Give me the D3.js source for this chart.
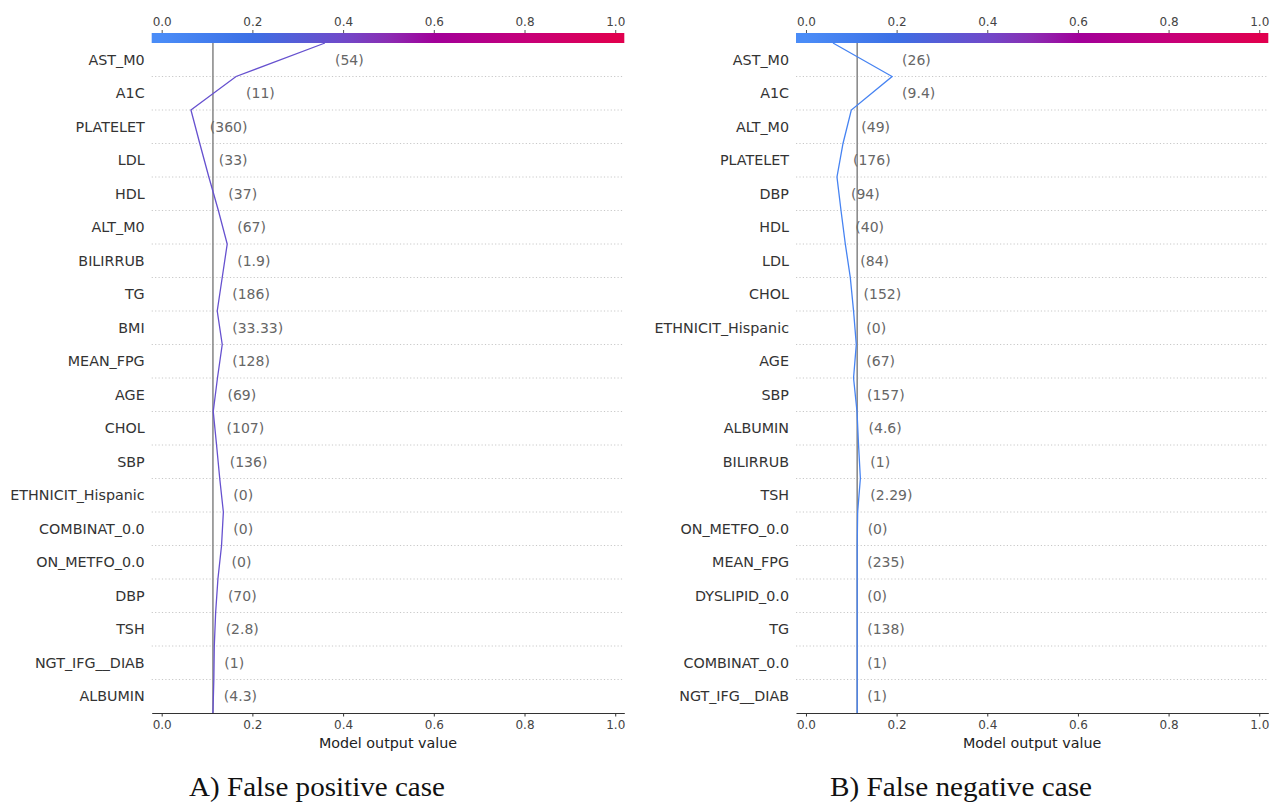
<!DOCTYPE html>
<html>
<head>
<meta charset="utf-8">
<script src="https://cdn.jsdelivr.net/npm/d3@7"></script>
<style>
  html, body { margin: 0; padding: 0; background: #fff; }
  svg { display: block; }
</style>
</head>
<body>
<svg id="chart" width="1277" height="803"></svg>
<script>
// ---------------- DATA ----------------
const featuresA = ["AST_M0","A1C","PLATELET","LDL","HDL","ALT_M0","BILIRRUB","TG","BMI","MEAN_FPG",
  "AGE","CHOL","SBP","ETHNICIT_Hispanic","COMBINAT_0.0","ON_METFO_0.0","DBP","TSH","NGT_IFG__DIAB","ALBUMIN"];
const featureValuesA = ["54","11","360","33","37","67","1.9","186","33.33","128",
  "69","107","136","0","0","0","70","2.8","1","4.3"];
// cumulative model output at each row boundary, top (final prediction) to bottom (base value)
const outputA = [0.360,0.164,0.0645,0.084,0.104,0.125,0.1445,0.1335,0.1225,0.1335,
  0.123,0.1137,0.121,0.128,0.136,0.132,0.124,0.119,0.116,0.115,0.113];
const baseA = 0.113;

const featuresB = ["AST_M0","A1C","ALT_M0","PLATELET","DBP","HDL","LDL","CHOL","ETHNICIT_Hispanic","AGE",
  "SBP","ALBUMIN","BILIRRUB","TSH","ON_METFO_0.0","MEAN_FPG","DYSLIPID_0.0","TG","COMBINAT_0.0","NGT_IFG__DIAB"];
const featureValuesB = ["26","9.4","49","176","94","40","84","152","0","67",
  "157","4.6","1","2.29","0","235","0","138","1","1"];
const outputB = [0.0596,0.190,0.100,0.0817,0.0684,0.0773,0.0868,0.0978,0.105,0.111,
  0.105,0.1126,0.116,0.120,0.114,0.113,0.113,0.113,0.113,0.113,0.113];
const baseB = 0.113;

const tickValues = [0.0,0.2,0.4,0.6,0.8,1.0];
const xDomain = [-0.022, 1.020];
const colorStops = [
  [0.00, "#4a8cf7"],
  [0.20, "#3c6fe5"],
  [0.40, "#7049c9"],
  [0.50, "#8a2db3"],
  [0.60, "#a1009a"],
  [0.80, "#c5007a"],
  [1.00, "#e0004f"]
];
const xLabel = "Model output value";
const captions = ["A) False positive case", "B) False negative case"];

// ---------------- DRAW ----------------
const svg = d3.select("#chart");
const colorScale = d3.scaleLinear()
  .domain(colorStops.map(d => d[0]))
  .range(colorStops.map(d => d[1]))
  .clamp(true);

const defs = svg.append("defs");
const grad = defs.append("linearGradient").attr("id", "cbar")
  .attr("x1", "0%").attr("x2", "100%").attr("y1", "0%").attr("y2", "0%");
d3.range(0, 1.0001, 0.02).forEach(t => {
  const v = xDomain[0] + t * (xDomain[1] - xDomain[0]);
  grad.append("stop").attr("offset", (t * 100) + "%").attr("stop-color", colorScale(v));
});

function drawPanel(opts) {
  const { left, right, top, bottom, features, values, output, base, caption, captionX, captionW } = opts;
  const g = svg.append("g");
  const x = d3.scaleLinear().domain(xDomain).range([left, right]);
  const n = features.length;
  const y = d3.scaleLinear().domain([0, n]).range([top, bottom]);

  // dotted row gridlines
  g.selectAll("line.grid").data(d3.range(1, n)).join("line")
    .attr("class", "grid")
    .attr("x1", left).attr("x2", right)
    .attr("y1", d => y(d)).attr("y2", d => y(d))
    .attr("stroke", "#c8c8c8").attr("stroke-width", 1)
    .attr("stroke-dasharray", "1.2,2.2");

  // base value vertical line
  g.append("line")
    .attr("x1", x(base)).attr("x2", x(base))
    .attr("y1", top).attr("y2", bottom)
    .attr("stroke", "#8c8c8c").attr("stroke-width", 1.6);

  // colorbar
  const cbH = 10;
  g.append("rect")
    .attr("x", left).attr("y", top - cbH)
    .attr("width", right - left).attr("height", cbH)
    .attr("fill", "url(#cbar)");
  const topAxis = d3.axisTop(x).tickValues(tickValues).tickFormat(d3.format(".1f"))
    .tickSize(3).tickPadding(4);
  const ta = g.append("g").attr("transform", `translate(0,${top - cbH})`).call(topAxis);
  ta.select(".domain").remove();
  ta.selectAll(".tick line").attr("stroke", "#555");
  ta.selectAll(".tick text").attr("fill", "#444")
    .style("font-family", "'DejaVu Sans', sans-serif").style("font-size", "12px");

  // bottom axis
  const bottomAxis = d3.axisBottom(x).tickValues(tickValues).tickFormat(d3.format(".1f"))
    .tickSize(3.5).tickSizeOuter(0).tickPadding(4);
  const ba = g.append("g").attr("transform", `translate(0,${bottom})`).call(bottomAxis);
  ba.select(".domain").attr("stroke", "#333").attr("stroke-width", 1.1);
  ba.selectAll(".tick line").attr("stroke", "#333");
  ba.selectAll(".tick text").attr("fill", "#444")
    .style("font-family", "'DejaVu Sans', sans-serif").style("font-size", "12px");

  g.append("text")
    .attr("x", (left + right) / 2).attr("y", bottom + 30)
    .attr("text-anchor", "middle").attr("dominant-baseline", "central")
    .attr("fill", "#222")
    .style("font-family", "'DejaVu Sans', sans-serif").style("font-size", "14.3px")
    .text(xLabel);

  // feature names
  g.selectAll("text.fname").data(features).join("text")
    .attr("class", "fname")
    .attr("x", left - 7).attr("y", (d, i) => y(i + 0.5))
    .attr("text-anchor", "end").attr("dominant-baseline", "central")
    .attr("fill", "#333")
    .style("font-family", "'DejaVu Sans', sans-serif").style("font-size", "14.3px")
    .text(d => d);

  // decision line
  const pts = output.map((v, k) => [x(v), y(k)]);
  g.append("path")
    .attr("d", d3.line()(pts))
    .attr("fill", "none")
    .attr("stroke", colorScale(output[0]))
    .attr("stroke-width", 1.3)
    .attr("stroke-linejoin", "miter");

  // feature value labels
  g.selectAll("text.fval").data(values).join("text")
    .attr("class", "fval")
    .attr("x", (d, i) => x(Math.max(output[i], output[i + 1])) + 10)
    .attr("y", (d, i) => y(i + 0.5))
    .attr("text-anchor", "start").attr("dominant-baseline", "central")
    .attr("fill", "#666")
    .style("font-family", "'DejaVu Sans', sans-serif").style("font-size", "14px")
    .text(d => "(" + d + ")");

  // caption
  g.append("text")
    .attr("x", captionX).attr("y", 796)
    .attr("fill", "#111")
    .attr("textLength", captionW).attr("lengthAdjust", "spacingAndGlyphs")
    .style("font-family", "'Liberation Serif', 'Times New Roman', serif").style("font-size", "27.5px")
    .text(caption);
}

drawPanel({ left: 151.7, right: 624.3, top: 43, bottom: 713,
  features: featuresA, values: featureValuesA, output: outputA, base: baseA,
  caption: captions[0], captionX: 189, captionW: 256 });
drawPanel({ left: 796, right: 1268.3, top: 43, bottom: 713,
  features: featuresB, values: featureValuesB, output: outputB, base: baseB,
  caption: captions[1], captionX: 830, captionW: 262 });
</script>
</body>
</html>
